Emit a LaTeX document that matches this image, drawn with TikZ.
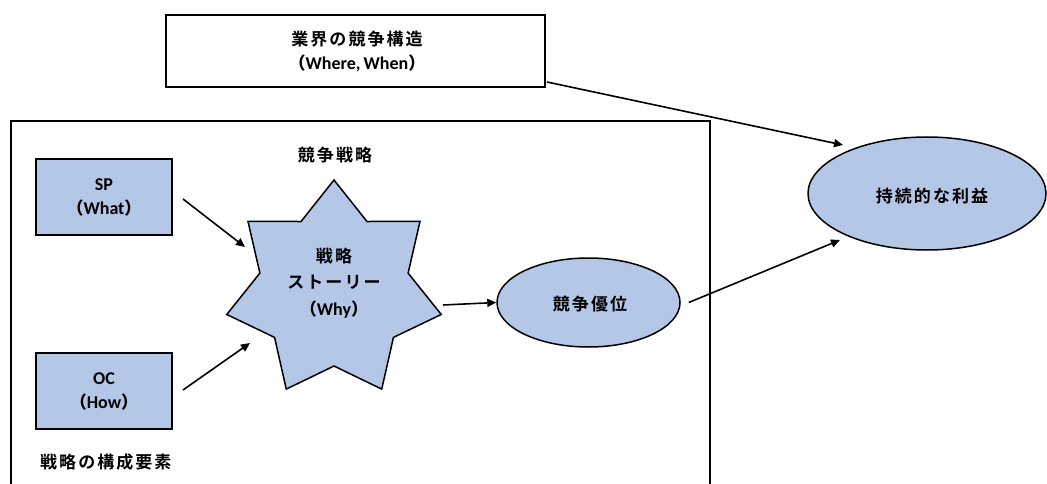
\documentclass[tikz,border=0pt]{standalone}
\usepackage{fontspec}
\setmainfont{Carlito}
\newfontfamily\jp{Noto Sans CJK JP Black}[LetterSpace=12]
\newfontfamily\jpp{Noto Sans CJK JP Bold}
\usetikzlibrary{shapes.geometric,arrows.meta}
\definecolor{fillblue}{HTML}{B4C7E7}
\tikzset{
  box/.style={draw=black, line width=2pt, rectangle, inner sep=0pt},
  bluebox/.style={box, fill=fillblue},
  ell/.style={draw=black, line width=1.5pt, ellipse, fill=fillblue, inner sep=0pt},
  txt/.style={align=center, inner sep=0pt, font=\fontsize{18}{24}\selectfont\bfseries},
  arr/.style={line width=1.6pt, -{Triangle[length=9pt,width=8pt]}},
  starshape/.style={draw=black, line width=1.5pt, fill=fillblue, star, star points=7, star point ratio=1.447, minimum size=220pt, inner sep=0pt}
}
\newcommand{\jt}[1]{{\jp\fontsize{17}{24}\selectfont #1}}
\newcommand{\lp}{{\jpp\fontsize{17}{24}\selectfont （}}
\newcommand{\rp}{{\jpp\fontsize{17}{24}\selectfont ）}}
\begin{document}
\begin{tikzpicture}[x=1pt,y=-1pt]
\useasboundingbox (0,0) rectangle (1047,484);
\begin{scope}
\clip (0,0) rectangle (1047,484);
% big frame
\node[box, minimum width=699pt, minimum height=380pt, anchor=north west] (frame) at (10,120) {};
\end{scope}
% top box
\node[box, minimum width=379pt, minimum height=72pt] (top) at (355.5,51) {};
\node[txt] (toptxt) at (357,51) {\jt{業界の競争構造}\\\lp Where,\,When\rp};
% SP and OC
\node[bluebox, minimum width=136pt, minimum height=76pt] (sp) at (104,197) {};
\node[txt] (sptxt) at (104,197) {SP\\\lp What\rp};
\node[bluebox, minimum width=136pt, minimum height=76pt] (oc) at (104,391) {};
\node[txt] (octxt) at (104,391) {OC\\\lp How\rp};
% star
\node[starshape] (star) at (334,290) {};
\node[txt, font=\fontsize{18}{26.5}\selectfont\bfseries] (startxt) at (334,283) {\jt{戦略}\\\jt{ストーリー}\\\lp Why\rp};
\node[txt] (stratlbl) at (335,155) {\jt{競争戦略}};
\node[txt, anchor=west] (elem) at (40,462) {\jt{戦略の構成要素}};
% ellipses
\node[ell, minimum width=183pt, minimum height=89pt] (adv) at (588.5,302.5) {};
\node[txt] (advtxt) at (590,304) {\jt{競争優位}};
\node[ell, minimum width=238pt, minimum height=113pt] (profit) at (927,193.5) {};
\node[txt] (proftxt) at (932,196) {\jt{持続的な利益}};
% connectors
\coordinate (a1s) at ([xshift=10pt,yshift=-2pt]sp.east);
\coordinate (a1e) at (245,247);
\draw[arr] (a1s) -- (a1e);
\coordinate (a2s) at ([xshift=10pt,yshift=1pt]oc.east);
\coordinate (a2e) at (250,343);
\draw[arr] (a2s) -- (a2e);
\coordinate (a3s) at (443,305);
\draw[arr] (a3s) -- (adv.west);
\coordinate (a4s) at (547,82);
\coordinate (a4e) at (843,145);
\draw[arr] (a4s) -- (a4e);
\coordinate (a5s) at ([xshift=8pt]adv.east);
\coordinate (a5e) at (840,240);
\draw[arr] (a5s) -- (a5e);
\end{tikzpicture}
\end{document}
